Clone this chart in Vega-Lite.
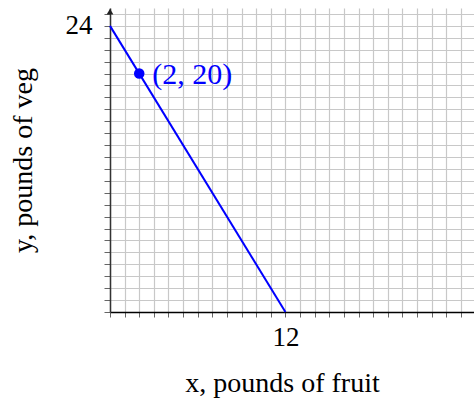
{
  "$schema": "https://vega.github.io/schema/vega-lite/v6.json",
  "width": 364,
  "height": 304,
  "autosize": {"type": "none"},
  "padding": {"left": 110, "top": 8, "right": 0, "bottom": 92},
  "background": "white",
  "config": {
    "view": {"stroke": null},
    "font": "Liberation Serif"
  },
  "datasets": {
    "line": [{"x": 0, "y": 24}, {"x": 12, "y": 0}],
    "pt": [{"x": 2, "y": 20, "label": "(2, 20)"}],
    "arrow": [{"x": 0, "y": 25.2}]
  },
  "layer": [
    {
      "data": {"name": "line"},
      "mark": {"type": "line", "color": "#0000ff", "strokeWidth": 2, "clip": false},
      "encoding": {
        "x": {
          "field": "x", "type": "quantitative",
          "scale": {"domain": [0, 24.9], "nice": false, "zero": false},
          "axis": {
            "values": [0,1,2,3,4,5,6,7,8,9,10,11,12,13,14,15,16,17,18,19,20,21,22,23,24],
            "tickCount": 50,
            "labelOverlap": false,
            "labelExpr": "datum.value == 12 ? '12' : ''",
            "grid": true, "gridColor": "#c8c8c8", "gridWidth": 1.2,
            "tickSize": 5, "tickColor": "#666", "tickWidth": 1,
            "domainColor": "#000", "domainWidth": 1.5,
            "labelFont": "Liberation Serif", "labelFontSize": 27, "labelColor": "#000",
            "labelPadding": 7,
            "title": "x, pounds of fruit",
            "titleFont": "Liberation Serif", "titleFontSize": 28, "titleFontWeight": "normal",
            "titleColor": "#000", "titlePadding": 19, "titleX": 172
          }
        },
        "y": {
          "field": "y", "type": "quantitative",
          "scale": {"domain": [0, 25.5], "nice": false, "zero": false},
          "axis": {
            "values": [0,1,2,3,4,5,6,7,8,9,10,11,12,13,14,15,16,17,18,19,20,21,22,23,24,25],
            "tickCount": 50,
            "labelOverlap": false,
            "labelExpr": "datum.value == 24 ? '24' : ''",
            "grid": true, "gridColor": "#c8c8c8", "gridWidth": 1.2,
            "tickSize": 6, "tickColor": "#666", "tickWidth": 1,
            "domainColor": "#333", "domainWidth": 1.5,
            "labelFont": "Liberation Serif", "labelFontSize": 27, "labelColor": "#000",
            "labelPadding": 12, "labelBaseline": "middle",
            "title": "y, pounds of veg",
            "titleFont": "Liberation Serif", "titleFontSize": 28, "titleFontWeight": "normal",
            "titleColor": "#000", "titlePadding": 28
          }
        }
      }
    },
    {
      "data": {"name": "arrow"},
      "mark": {"type": "point", "shape": "triangle-up", "filled": true, "color": "#222", "size": 45, "opacity": 1, "clip": false},
      "encoding": {
        "x": {"field": "x", "type": "quantitative"},
        "y": {"field": "y", "type": "quantitative"}
      }
    },
    {
      "data": {"name": "pt"},
      "mark": {"type": "circle", "color": "#0000ff", "size": 110, "opacity": 1},
      "encoding": {
        "x": {"field": "x", "type": "quantitative"},
        "y": {"field": "y", "type": "quantitative"}
      }
    },
    {
      "data": {"name": "pt"},
      "mark": {"type": "text", "color": "#0000ff", "font": "Liberation Serif", "fontSize": 30, "align": "left", "baseline": "middle", "dx": 13, "dy": 1},
      "encoding": {
        "x": {"field": "x", "type": "quantitative"},
        "y": {"field": "y", "type": "quantitative"},
        "text": {"field": "label"}
      }
    }
  ]
}
